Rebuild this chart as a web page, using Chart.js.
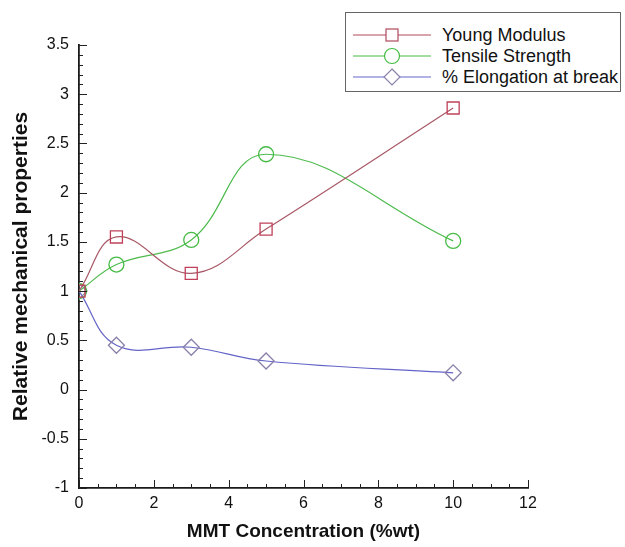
<!DOCTYPE html>
<html lang="en">

<head>
    <meta charset="UTF-8">
    <title>Relative mechanical properties</title>
    <style>
        body { margin: 0; background: #fff; }
        .wrap { position: relative; width: 625px; height: 547px; }
        .legenda {
            position: absolute; left: 345px; top: 12px; width: 276px; height: 80px;
            border: 1px solid #666; background: #fff; box-sizing: border-box;
            font-family: "Liberation Sans", Arial, sans-serif; font-size: 18px; color: #111;
        }
        .item { position: absolute; left: 7px; height: 20px; display: flex; align-items: center; }
        .item svg { margin-right: 11px; }
    </style>
    <script src="https://cdn.jsdelivr.net/npm/chart.js"></script>
</head>

<body>
    <div class="wrap">
        <canvas id="grafico" width="625" height="547"></canvas>
        <div class="legenda">
            <div class="item" style="top:12px">
                <svg width="78" height="20"><line x1="0" y1="10" x2="78" y2="10" stroke="#b04a5a" stroke-width="1"/><rect x="33" y="4" width="12" height="12" fill="#fff" stroke="#b04a5a" stroke-width="1.2"/></svg>
                <span>Young Modulus</span>
            </div>
            <div class="item" style="top:33px">
                <svg width="78" height="20"><line x1="0" y1="10" x2="78" y2="10" stroke="#44bb44" stroke-width="1"/><circle cx="39" cy="10" r="7.5" fill="#fff" stroke="#44bb44" stroke-width="1.2"/></svg>
                <span>Tensile Strength</span>
            </div>
            <div class="item" style="top:54px">
                <svg width="78" height="20"><line x1="0" y1="10" x2="78" y2="10" stroke="#6464c8" stroke-width="1"/><polygon points="39,2 47,10 39,18 31,10" fill="#fff" stroke="#8a80aa" stroke-width="1.2"/></svg>
                <span>% Elongation at break</span>
            </div>
        </div>
    </div>

    <script>
        // dados
        var concentracao = [0, 1, 3, 5, 10];
        var youngModulus = [1.0, 1.55, 1.18, 1.63, 2.86];
        var tensileStrength = [1.0, 1.27, 1.52, 2.39, 1.51];
        var elongation = [1.0, 0.45, 0.43, 0.29, 0.17];

        function pontos(ys) {
            var lista = [];
            for (var i = 0; i < concentracao.length; i++) {
                lista.push({ x: concentracao[i], y: ys[i] });
            }
            return lista;
        }

        // ticks para dentro + ticks menores
        var ticksDentro = {
            id: 'ticksDentro',
            afterDraw(chart) {
                var c = chart.ctx;
                var sx = chart.scales.x;
                var sy = chart.scales.y;
                var area = chart.chartArea;
                c.save();
                c.strokeStyle = '#222';
                c.lineWidth = 1;
                c.beginPath();
                for (var k = -10; k <= 35; k++) {
                    var py = Math.round(sy.getPixelForValue(k / 10)) + 0.5;
                    var len = (k % 5 == 0) ? 8 : 4;
                    c.moveTo(area.left, py);
                    c.lineTo(area.left + len, py);
                }
                for (var j = 0; j <= 24; j++) {
                    var px = Math.round(sx.getPixelForValue(j / 2)) + 0.5;
                    var len2 = (j % 4 == 0) ? 8 : 4;
                    c.moveTo(px, area.bottom);
                    c.lineTo(px, area.bottom - len2);
                }
                c.stroke();
                c.restore();
            }
        };

        const ctx = document.getElementById('grafico');

        var grafico = new Chart(ctx, {
            type: 'line',
            data: {
                datasets: [
                    {
                        label: 'Young Modulus',
                        data: pontos(youngModulus),
                        borderColor: '#a85866',
                        borderWidth: 1.2,
                        pointStyle: 'rect',
                        pointRadius: 8.5,
                        pointBorderColor: '#c0405a',
                        pointBackgroundColor: 'rgba(255,255,255,0)',
                        pointBorderWidth: 1.3,
                        tension: 0.4
                    },
                    {
                        label: 'Tensile Strength',
                        data: pontos(tensileStrength),
                        borderColor: '#4cbb4c',
                        borderWidth: 1.2,
                        pointStyle: 'circle',
                        pointRadius: 7.5,
                        pointBorderColor: '#44bb44',
                        pointBackgroundColor: 'rgba(255,255,255,0)',
                        pointBorderWidth: 1.3,
                        tension: 0.4
                    },
                    {
                        label: '% Elongation at break',
                        data: pontos(elongation),
                        borderColor: '#6464c8',
                        borderWidth: 1.2,
                        pointStyle: 'rectRot',
                        pointRadius: 8,
                        pointBorderColor: '#8a80aa',
                        pointBackgroundColor: 'rgba(255,255,255,0)',
                        pointBorderWidth: 1.3,
                        tension: 0.4
                    }
                ]
            },
            options: {
                responsive: false,
                animation: false,
                layout: { padding: { left: 0, right: 97, top: 45, bottom: 0 } },
                plugins: {
                    legend: { display: false },
                    tooltip: { enabled: false }
                },
                scales: {
                    x: {
                        type: 'linear',
                        min: 0,
                        max: 12,
                        afterFit: function (s) { s.height = 59; },
                        border: { display: true, color: '#1a1a1a', width: 1.8 },
                        grid: { drawOnChartArea: false, drawTicks: false },
                        ticks: {
                            stepSize: 2,
                            padding: 6,
                            color: '#111',
                            font: { family: 'Liberation Sans', size: 16 }
                        },
                        title: {
                            display: true,
                            text: 'MMT Concentration (%wt)',
                            color: '#111',
                            padding: { top: 6 },
                            font: { family: 'Liberation Sans', size: 19, weight: 'bold' }
                        }
                    },
                    y: {
                        min: -1,
                        max: 3.5,
                        afterFit: function (s) { s.width = 79; },
                        border: { display: true, color: '#1a1a1a', width: 1.8 },
                        grid: { drawOnChartArea: false, drawTicks: false },
                        ticks: {
                            stepSize: 0.5,
                            padding: 10,
                            color: '#111',
                            font: { family: 'Liberation Sans', size: 16 },
                            callback: function (v) { return String(v); }
                        },
                        title: {
                            display: true,
                            text: 'Relative mechanical properties',
                            color: '#111',
                            padding: { top: 9, bottom: 0 },
                            font: { family: 'Liberation Sans', size: 21, weight: 'bold' }
                        }
                    }
                }
            },
            plugins: [ticksDentro]
        });
    </script>
</body>

</html>
